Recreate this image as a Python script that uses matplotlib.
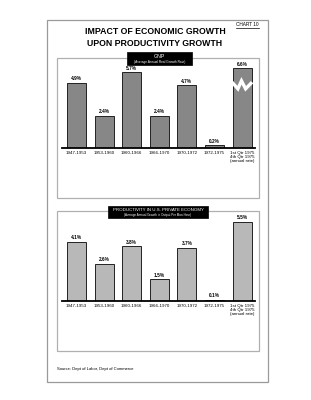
import matplotlib
matplotlib.use("Agg")
import matplotlib.pyplot as plt
from matplotlib.patches import Rectangle

plt.rcParams['font.family'] = ['Liberation Sans Narrow', 'Liberation Sans', 'DejaVu Sans']

periods = ["1947-1953", "1953-1960", "1960-1966", "1966-1970", "1970-1972",
           "1972-1975", "1st Qtr 1975\n4th Qtr 1975\n(annual rate)"]
gnp_values = [4.9, 2.4, 5.7, 2.4, 4.7, 0.2, 6.6]
gnp_labels = ["4.9%", "2.4%", "5.7%", "2.4%", "4.7%", "0.2%", "6.6%"]
prod_values = [4.1, 2.6, 3.8, 1.5, 3.7, 0.1, 5.5]
prod_labels = ["4.1%", "2.6%", "3.8%", "1.5%", "3.7%", "0.1%", "5.5%"]
gnp_break_cap = 6.0  # displayed height of the broken (off-scale) bar

W, H = 311, 400
fig = plt.figure(figsize=(W / 100, H / 100), dpi=100)
fig.patch.set_facecolor("white")

def fx(px):
    return px / W

def fy(py):
    return 1 - py / H

def frect(x0, y0, x1, y1, **kw):
    r = Rectangle((fx(x0), fy(y1)), fx(x1) - fx(x0), fy(y0) - fy(y1),
                  transform=fig.transFigure, **kw)
    fig.patches.append(r)
    return r

# page border
frect(47, 20, 268, 382, fill=False, edgecolor="#9a9a9a", lw=0.9)
# panel boxes
frect(57, 58, 259, 198, fill=False, edgecolor="#b0b0b0", lw=0.9)
frect(57, 211, 259, 351, fill=False, edgecolor="#b0b0b0", lw=0.9)

# titles
fig.text(fx(155), fy(32), "IMPACT OF ECONOMIC GROWTH", ha="center", va="center",
         fontsize=6.3, fontweight="bold")
fig.text(fx(155), fy(43.5), "UPON PRODUCTIVITY GROWTH", ha="center", va="center",
         fontsize=6.3, fontweight="bold")
fig.text(fx(247), fy(25), "CHART 10", ha="center", va="center", fontsize=3.4)
fig.lines.append(plt.Line2D([fx(236), fx(259)], [fy(28), fy(28)],
                            transform=fig.transFigure, color="black", lw=0.5))

# black label boxes
frect(127, 52, 192, 65, facecolor="black", edgecolor="black", lw=0.5)
fig.text(fx(159.5), fy(56), "GNP", ha="center", va="center", color="white", fontsize=3.8)
fig.text(fx(159.5), fy(61.5), "(Average Annual Real Growth Rate)", ha="center", va="center",
         color="white", fontsize=2.3)
frect(108, 206, 208, 218, facecolor="black", edgecolor="black", lw=0.5)
fig.text(fx(158), fy(209.5), "PRODUCTIVITY IN U.S. PRIVATE ECONOMY", ha="center", va="center",
         color="white", fontsize=3.2)
fig.text(fx(158), fy(214.8), "(Average Annual Growth in Output Per Man-Hour)", ha="center",
         va="center", color="white", fontsize=2.2)

fig.text(fx(57), fy(369), "Source: Dept of Labor, Dept of Commerce", ha="left", va="center",
         fontsize=3.0)

xs = list(range(len(periods)))
bw = 0.69

def make_axes(baseline_py, px_per_unit):
    ax = fig.add_axes([fx(62), fy(baseline_py), fx(255) - fx(62), 90 / H])
    ax.set_xlim(-0.525, 6.47)
    ax.set_ylim(0, 90 / px_per_unit)
    ax.patch.set_alpha(0)
    for s in ("top", "left", "right"):
        ax.spines[s].set_visible(False)
    ax.spines["bottom"].set_linewidth(1.3)
    ax.set_yticks([])
    ax.set_xticks(xs)
    ax.set_xticklabels(periods, fontsize=3.2, linespacing=1.0, va="top")
    ax.tick_params(axis="x", length=0, pad=2)
    return ax

# upper panel (GNP)
ax1 = make_axes(148, 13.3)
heights1 = [v if i < 6 else gnp_break_cap for i, v in enumerate(gnp_values)]
ax1.bar(xs, heights1, width=bw, color="#878787", edgecolor="#222222", lw=0.7)
for x, h, lab in zip(xs, heights1, gnp_labels):
    ax1.text(x, h + 0.12, lab, ha="center", va="bottom", fontsize=3.4, fontweight="bold",
             clip_on=False)
bx = xs[6]
zx = [bx - bw / 2 - 0.02, bx - 0.15, bx - 0.02, bx + 0.13, bx + bw / 2 + 0.02]
zy = [4.95, 4.45, 5.05, 4.45, 4.95]
ax1.plot(zx, zy, color="white", lw=2.4, solid_joinstyle="miter", solid_capstyle="butt")

# lower panel (productivity)
ax2 = make_axes(301, 14.4)
ax2.bar(xs, prod_values, width=bw, color="#b8b8b8", edgecolor="#222222", lw=0.7)
for x, h, lab in zip(xs, prod_values, prod_labels):
    ax2.text(x, h + 0.12, lab, ha="center", va="bottom", fontsize=3.4, fontweight="bold",
             clip_on=False)

fig.savefig("out.png", dpi=100, facecolor="white")
